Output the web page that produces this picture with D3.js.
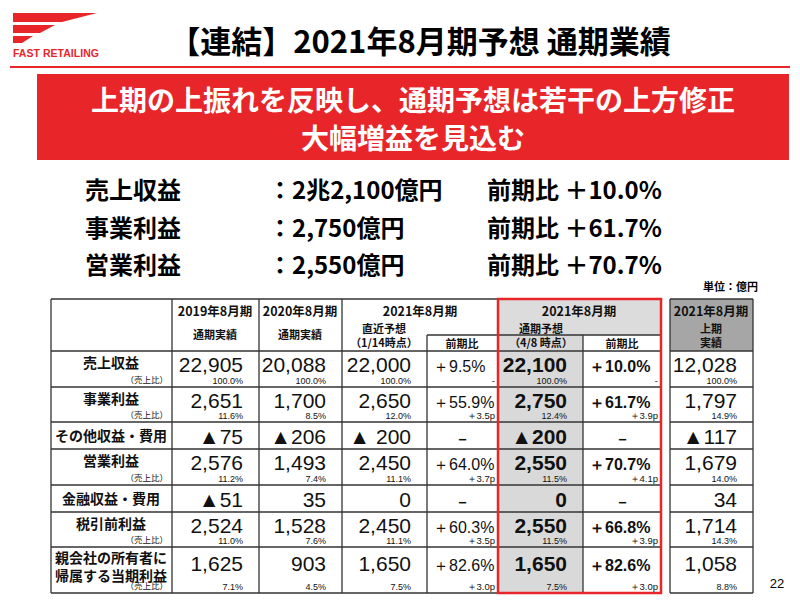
<!DOCTYPE html>
<html><head><meta charset="utf-8">
<script src="https://cdn.jsdelivr.net/npm/d3@7"></script>
<style>body{margin:0;background:#fff}svg{display:block}</style>
</head><body><svg id="s" width="800" height="601"></svg>
<script>
const rowLabels=["売上収益","事業利益","その他収益・費用","営業利益","金融収益・費用","税引前利益","親会社の所有者に|帰属する当期利益"];
const hasRatio=[true,true,false,true,false,true,true];
const fy2019=["22,905","2,651","▲75","2,576","▲51","2,524","1,625"];
const fy2019r=["100.0%","11.6%","","11.2%","","11.0%","7.1%"];
const fy2020=["20,088","1,700","▲206","1,493","35","1,528","903"];
const fy2020r=["100.0%","8.5%","","7.4%","","7.6%","4.5%"];
const prev=["22,000","2,650","▲ 200","2,450","0","2,450","1,650"];
const prevr=["100.0%","12.0%","","11.1%","","11.1%","7.5%"];
const prevYoY=["＋9.5%","＋55.9%","－","＋64.0%","－","＋60.3%","＋82.6%"];
const prevYoYr=["-","＋3.5p","","＋3.7p","","＋3.5p","＋3.0p"];
const fc=["22,100","2,750","▲200","2,550","0","2,550","1,650"];
const fcr=["100.0%","12.4%","","11.5%","","11.5%","7.5%"];
const fcYoY=["＋10.0%","＋61.7%","－","＋70.7%","－","＋66.8%","＋82.6%"];
const fcYoYr=["-","＋3.9p","","＋4.1p","","＋3.9p","＋3.0p"];
const h1=["12,028","1,797","▲117","1,679","34","1,714","1,058"];
const h1r=["100.0%","14.9%","","14.0%","","14.3%","8.8%"];
const summaryItems=["売上収益","事業利益","営業利益"];
const summaryValues=["：2兆2,100億円","：2,750億円","：2,550億円"];
const summaryYoY=["前期比 ＋10.0%","前期比 ＋61.7%","前期比 ＋70.7%"];

const svg=d3.select("#s");
const JP="'Noto Sans CJK JP','Noto Sans',sans-serif";
const NUM="'Liberation Sans',Arial,sans-serif";
const RED="#e8262a";
svg.append("path").attr("d","M13,13 L97,13 L62,22 L13,22Z").attr("fill",RED);
svg.append("path").attr("d","M13,25 L55,25 L40,33 L13,33Z").attr("fill",RED);
svg.append("path").attr("d","M13,36 L33,36 L22,43 L13,43Z").attr("fill",RED);
svg.append("text").attr("x",13).attr("y",57).attr("font-family",NUM).attr("font-weight","bold").attr("font-size",10.5).attr("fill",RED).attr("textLength",86).text("FAST RETAILING");
svg.append("line").attr("x1",10).attr("x2",790).attr("y1",67).attr("y2",67).attr("stroke",RED).attr("stroke-width",2);
svg.append("text").attr("x",420).attr("y",53).attr("text-anchor","middle").attr("font-family",JP).attr("font-weight","bold").attr("font-size",31).text("【連結】2021年8月期予想 通期業績");
svg.append("rect").attr("x",37).attr("y",74).attr("width",752).attr("height",86).attr("fill",RED);
svg.append("text").attr("x",413).attr("y",111).attr("text-anchor","middle").attr("font-family",JP).attr("font-weight","bold").attr("font-size",28).attr("fill","#fff").text("上期の上振れを反映し、通期予想は若干の上方修正");
svg.append("text").attr("x",413).attr("y",149).attr("text-anchor","middle").attr("font-family",JP).attr("font-weight","bold").attr("font-size",28).attr("fill","#fff").text("大幅増益を見込む");
const sy=d3.scalePoint().domain(summaryItems).range([199,274]);
summaryItems.forEach((k,i)=>{
  const g=svg.append("g").attr("font-family",JP).attr("font-weight","bold").attr("font-size",24);
  g.append("text").attr("x",85).attr("y",sy(k)).text(k);
  g.append("text").attr("x",268).attr("y",sy(k)).text(summaryValues[i]);
  g.append("text").attr("x",487).attr("y",sy(k)).text(summaryYoY[i]);
});
svg.append("text").attr("x",703).attr("y",291).attr("font-family",JP).attr("font-weight","bold").attr("font-size",11).text("単位：億円");

const rowEdges=[351,387,422,449,485,512,547,593];
const tTop=299;
svg.append("rect").attr("x",498).attr("y",tTop).attr("width",163).attr("height",36).attr("fill","#dcdcdc");
svg.append("rect").attr("x",498).attr("y",335).attr("width",85).attr("height",258).attr("fill","#d9d9d9");
svg.append("rect").attr("x",670).attr("y",tTop).attr("width",83).attr("height",52).attr("fill","#a6a6a6");
const L=(x1,y1,x2,y2,c="#333",w=1.3)=>svg.append("line").attr("x1",x1).attr("y1",y1).attr("x2",x2).attr("y2",y2).attr("stroke",c).attr("stroke-width",w);
L(51,tTop,661,tTop);L(51,593,661,593);
[51,172,259,342].forEach(x=>L(x,tTop,x,593));
L(427,335,427,593);L(583,335,583,593);
L(427,335,661,335);
rowEdges.slice(0,-1).forEach(y=>L(51,y,661,y));
L(670,tTop,753,tTop);L(670,593,753,593);L(670,tTop,670,593);L(753,tTop,753,593);
rowEdges.slice(0,-1).forEach(y=>L(670,y,753,y));
svg.append("rect").attr("x",498).attr("y",tTop).attr("width",163).attr("height",294).attr("fill","none").attr("stroke",RED).attr("stroke-width",2.5);

const T=(x,y,t,o={})=>svg.append("text").attr("x",x).attr("y",y).attr("text-anchor",o.a||"middle")
  .attr("font-family",o.f||JP).attr("font-weight",o.w||"bold").attr("font-size",o.s||12).attr("fill",o.c||"#111").text(t);
T(215,316,"2019年8月期",{s:12.5});T(300,316,"2020年8月期",{s:12.5});T(420,316,"2021年8月期",{s:12.5});
T(579,316,"2021年8月期",{s:12.5});T(711,316,"2021年8月期",{s:12.5});
T(215,339,"通期実績",{s:11});T(300,339,"通期実績",{s:11});
T(384,333,"直近予想",{s:11});T(384,347,"（1/14時点）",{s:11});
T(462,348,"前期比",{s:11});T(541,333,"通期予想",{s:11});T(541,347,"（4/8 時点）",{s:11});T(622,348,"前期比",{s:11});
T(711,333,"上期",{s:11});T(711,347,"実績",{s:11});

const cols=[{c:172,r:259,v:fy2019,p:fy2019r,w:"normal"},{c:259,r:342,v:fy2020,p:fy2020r,w:"normal"},
  {c:342,r:427,v:prev,p:prevr,w:"normal"},{c:427,r:498,v:prevYoY,p:prevYoYr,w:"normal",yoy:true},
  {c:498,r:583,v:fc,p:fcr,w:"bold"},{c:583,r:661,v:fcYoY,p:fcYoYr,w:"bold",yoy:true},{c:670,r:753,v:h1,p:h1r,w:"normal"}];
rowLabels.forEach((lab,i)=>{
  const y0=rowEdges[i],y1=rowEdges[i+1],h=y1-y0;
  const parts=lab.split("|");
  if(parts.length>1){T(111,y0+16,parts[0],{s:14});T(111,y0+34,parts[1],{s:14});}
  else T(111,hasRatio[i]?y0+17:y0+h/2+5,lab,{s:14});
  if(hasRatio[i]) T(168,y1-4,"（売上比）",{s:8.5,a:"end",w:"normal"});
  cols.forEach(col=>{
    const vy=hasRatio[i]?(parts.length>1?y0+24:y0+21):y0+h/2+8;
    const v=col.v[i];
    if(col.yoy){
      if(v==="－") T((col.c+col.r)/2,vy,"－",{s:15,f:NUM});
      else T(col.c+6,vy,v,{s:16,a:"start",f:NUM,w:col.w});
      if(col.p[i]) T(col.r-3,y1-3,col.p[i],{s:9.5,a:"end",f:NUM,w:"normal"});
    } else {
      T(col.r-16,vy,v,{s:21,a:"end",f:NUM,w:col.w});
      if(col.p[i]) T(col.r-16,y1-3,col.p[i],{s:9,a:"end",f:NUM,w:"normal"});
    }
  });
});
svg.append("text").attr("x",777).attr("y",588).attr("text-anchor","middle").attr("font-family",NUM).attr("font-size",13).text("22");
</script></body></html>
